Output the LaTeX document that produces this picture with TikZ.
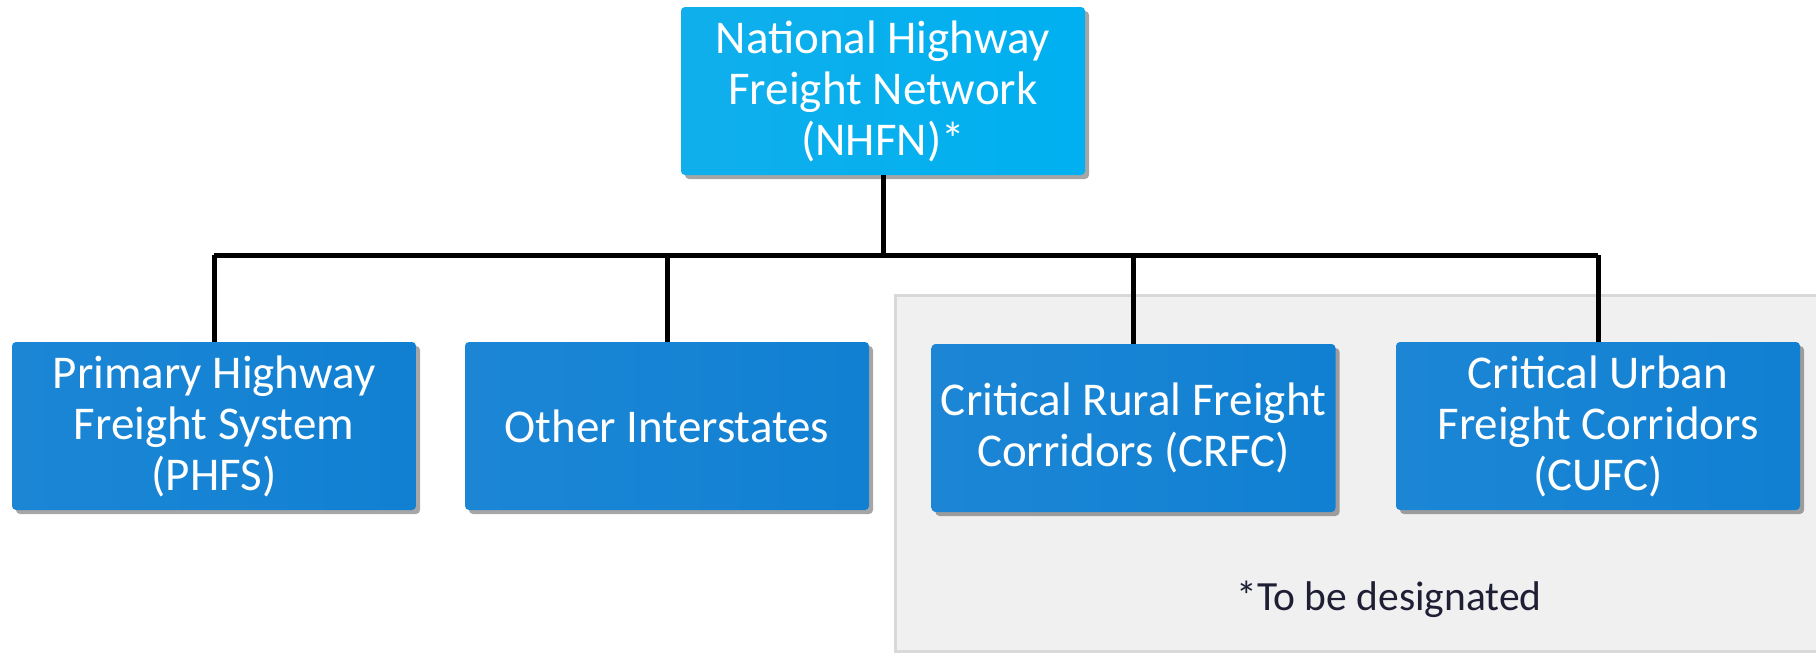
\documentclass[tikz,border=0pt]{standalone}
\usepackage{fontspec}
\setmainfont{Carlito}
\usetikzlibrary{shadows}
\definecolor{topblue}{RGB}{0,176,240}
\definecolor{topblueL}{RGB}{16,175,235}
\definecolor{boxblue}{RGB}{17,128,210}
\definecolor{boxblueL}{RGB}{28,134,213}
\definecolor{panelgray}{RGB}{240,240,240}
\definecolor{panelline}{RGB}{217,217,217}
\definecolor{notecol}{RGB}{30,30,52}
\begin{document}
\begin{tikzpicture}[x=1pt,y=-1pt,
  boxbase/.style={rectangle, rounded corners=4pt, inner sep=0pt, align=center, text=white,
    font=\fontsize{47}{51}\selectfont,
    drop shadow={shadow xshift=4pt, shadow yshift=-4pt, fill=black, opacity=0.35}},
  topbox/.style={boxbase, left color=topblueL, right color=topblue, minimum width=404pt, minimum height=168pt},
  subbox/.style={boxbase, left color=boxblueL, right color=boxblue, minimum width=404pt, minimum height=168pt},
  link/.style={line width=5pt, black},
  panel/.style={draw=panelline, line width=3pt, fill=panelgray},
  note/.style={text=notecol, font=\fontsize{41.5}{46}\selectfont, inner sep=0pt}]
\useasboundingbox (0,0) rectangle (1816,653);
\fill[white] (0,0) rectangle (1816,653);
\path[panel] (895,295) rectangle (1840,651);

\node[topbox] (nhfn) at (883,91) {National Highway\\Freight Network\\(NHFN)*};
\node[subbox] (phfs) at (214,426) {Primary Highway\\Freight System\\(PHFS)};
\node[subbox] (other) at (667,426) {Other Interstates};
\node[subbox] (crfc) at (1133.5,428) {Critical Rural Freight\\Corridors (CRFC)};
\node[subbox] (cufc) at (1598,426) {Critical Urban\\Freight Corridors\\(CUFC)};
\node[note, anchor=base] (foot) at (1389,610) {*To be designated};

\coordinate (j) at (883,255);
\draw[link] (nhfn.south) -- (j);
\draw[link] (phfs.north |- j) -- (cufc.north |- j);
\draw[link] (phfs.north) -- (phfs.north |- j);
\draw[link] (other.north) -- (other.north |- j);
\draw[link] (crfc.north) -- (crfc.north |- j);
\draw[link] (cufc.north) -- (cufc.north |- j);
\end{tikzpicture}
\end{document}
